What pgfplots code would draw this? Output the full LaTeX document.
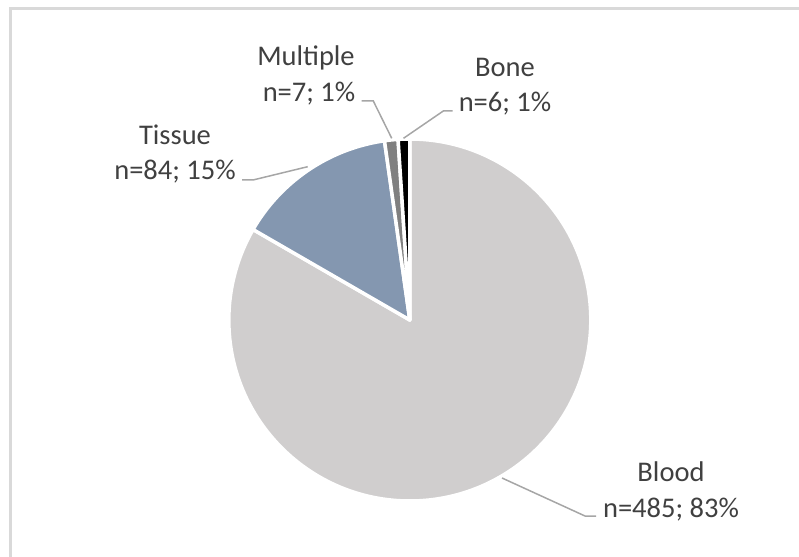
\documentclass[border=0pt]{standalone}
\usepackage{pgfplots}
\pgfplotsset{compat=1.18}
\usepackage{pgfplotstable}
\usepackage{fontspec}
\setmainfont{Carlito}
\definecolor{blood}{HTML}{D0CECE}
\definecolor{tissue}{HTML}{8497B0}
\definecolor{multiple}{HTML}{808080}
\definecolor{bone}{HTML}{000000}
\definecolor{lbl}{HTML}{404040}
\definecolor{leader}{HTML}{A6A6A6}
\definecolor{framecol}{HTML}{D9D9D9}

\pgfplotstableread{
label value color
Blood 485 blood
Tissue 84 tissue
Multiple 7 multiple
Bone 6 bone
}\piedata

\begin{document}
\begin{tikzpicture}
\useasboundingbox (0,0) rectangle (799bp,557bp);
\def\pietotal{0}
\pgfplotsforeachungrouped \i in {0,...,3}{%
  \pgfplotstablegetelem{\i}{value}\of\piedata
  \pgfmathsetmacro\pietotal{\pietotal+\pgfplotsretval}%
}
\def\piecum{0}
\pgfplotsforeachungrouped \i in {0,...,3}{%
  \pgfplotstablegetelem{\i}{value}\of\piedata
  \let\pieval\pgfplotsretval
  \pgfmathsetmacro\pa{90-360*(\piecum/\pietotal)}%
  \pgfmathsetmacro\piecum{\piecum+\pieval}%
  \pgfmathsetmacro\pb{90-360*(\piecum/\pietotal)}%
  \expandafter\xdef\csname pieA\i\endcsname{\pa}%
  \expandafter\xdef\csname pieB\i\endcsname{\pb}%
  \pgfplotstablegetelem{\i}{color}\of\piedata
  \expandafter\xdef\csname pieC\i\endcsname{\pgfplotsretval}%
}
\begin{axis}[at={(0,0)}, anchor=south west, width=799bp, height=557bp,
  scale only axis, xmin=0, xmax=799, ymin=0, ymax=557, hide axis, clip=false]
  \draw[framecol, line width=2.5bp] (axis cs:10.3,-40) rectangle (axis cs:840,548.3);
  \pgfplotsinvokeforeach{0,...,3}{%
    \edef\temp{\noexpand\fill[fill=\csname pieC#1\endcsname, draw=white, line width=3.5bp, line join=round]
      (axis cs:409.8,237) -- ++(\csname pieA#1\endcsname:181bp)
      arc[start angle=\csname pieA#1\endcsname, end angle=\csname pieB#1\endcsname, radius=181bp] -- cycle;}%
    \temp
  }
  \addplot[leader, line width=1.5bp, no markers, forget plot] coordinates {(242,377) (253,377) (307.7,390.3)};
  \addplot[leader, line width=1.5bp, no markers, forget plot] coordinates {(361.7,456) (373.3,456) (391.7,418.7)};
  \addplot[leader, line width=1.5bp, no markers, forget plot] coordinates {(452.7,446) (443.3,446) (403.5,418.7)};
  \addplot[leader, line width=1.5bp, no markers, forget plot] coordinates {(596,41) (585,41) (502,79)};
  \tikzset{lab/.style={anchor=base, text=lbl, inner sep=0pt, font=\fontsize{28.5bp}{35bp}\selectfont}}
  \node[lab] at (axis cs:175,412) {Tissue};
  \node[lab] at (axis cs:175,377) {n=84; 15\%};
  \node[lab] at (axis cs:306,491) {Multiple};
  \node[lab] at (axis cs:309,455.5) {n=7; 1\%};
  \node[lab] at (axis cs:505,480.5) {Bone};
  \node[lab] at (axis cs:505,445) {n=6; 1\%};
  \node[lab] at (axis cs:671,76) {Blood};
  \node[lab] at (axis cs:671,40) {n=485; 83\%};
\end{axis}
\end{tikzpicture}
\end{document}
